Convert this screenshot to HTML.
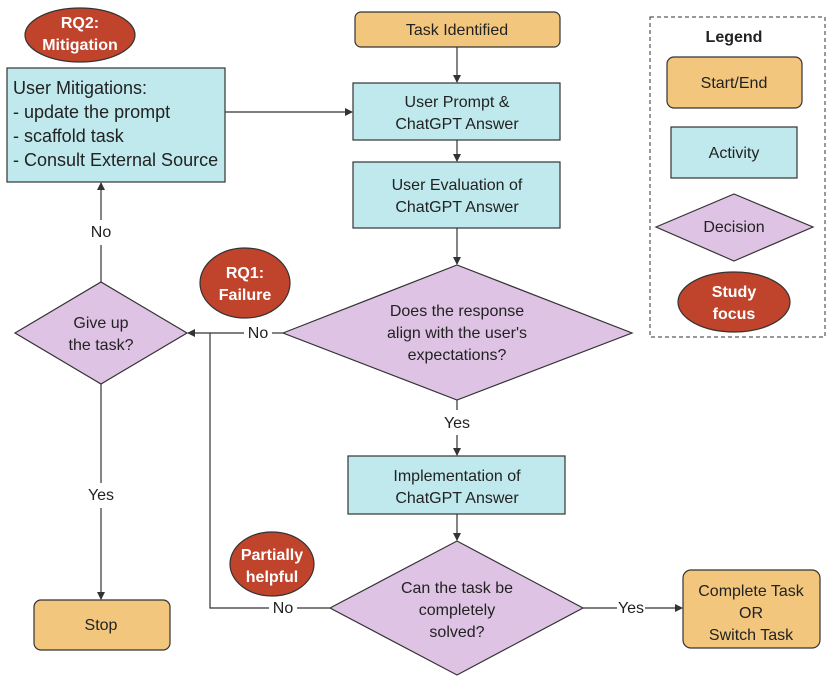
<!DOCTYPE html>
<html><head><meta charset="utf-8"><style>
html,body{margin:0;padding:0;background:#fff;}
text{font-family:"Liberation Sans",sans-serif;font-size:16px;fill:#222;}
.w{fill:#fff;font-weight:bold;}
</style></head><body>
<svg width="831" height="684" viewBox="0 0 831 684" xmlns="http://www.w3.org/2000/svg">
<defs><marker id="a" markerWidth="8" markerHeight="8" refX="7" refY="4" orient="auto" markerUnits="userSpaceOnUse"><path d="M0,0 L8,4 L0,8 z" fill="#333"/></marker></defs>
<g stroke="#333" stroke-width="1.2" fill="none">
<line x1="457" y1="47" x2="457" y2="82" marker-end="url(#a)"/>
<line x1="225" y1="112" x2="352" y2="112" marker-end="url(#a)"/>
<line x1="457" y1="140" x2="457" y2="161" marker-end="url(#a)"/>
<line x1="457" y1="228" x2="457" y2="264" marker-end="url(#a)"/>
<line x1="283" y1="333" x2="272" y2="333"/>
<line x1="244" y1="333" x2="188" y2="333" marker-end="url(#a)"/>
<line x1="101" y1="282" x2="101" y2="245"/>
<line x1="101" y1="220" x2="101" y2="183" marker-end="url(#a)"/>
<line x1="101" y1="384" x2="101" y2="483"/>
<line x1="101" y1="508" x2="101" y2="599" marker-end="url(#a)"/>
<line x1="457" y1="400" x2="457" y2="410"/>
<line x1="457" y1="435" x2="457" y2="455" marker-end="url(#a)"/>
<line x1="457" y1="514" x2="457" y2="540" marker-end="url(#a)"/>
<polyline points="330,608 297,608"/>
<polyline points="269,608 210,608 210,333"/>
<line x1="583" y1="608" x2="617" y2="608"/>
<line x1="645" y1="608" x2="682" y2="608" marker-end="url(#a)"/>
</g>
<g stroke="#333" stroke-width="1.2">
<rect x="355" y="12" width="205" height="35" rx="6" fill="#f2c67c"/>
<rect x="7" y="68" width="218" height="114" fill="#bfe9ec"/>
<rect x="353" y="83" width="207" height="57" fill="#bfe9ec"/>
<rect x="353" y="162" width="207" height="66" fill="#bfe9ec"/>
<polygon points="283,333 457,265 632,333 457,400" fill="#dfc3e4"/>
<rect x="348" y="456" width="217" height="58" fill="#bfe9ec"/>
<polygon points="330,608 457,541 583,608 457,675" fill="#dfc3e4"/>
<rect x="683" y="570" width="137" height="78" rx="8" fill="#f2c67c"/>
<polygon points="15,333 101,282 187,333 101,384" fill="#dfc3e4"/>
<rect x="34" y="600" width="136" height="50" rx="7" fill="#f2c67c"/>
<ellipse cx="80" cy="35" rx="55" ry="27" fill="#c0432c"/>
<ellipse cx="245" cy="283" rx="45" ry="35" fill="#c0432c"/>
<ellipse cx="272" cy="564" rx="42" ry="32" fill="#c0432c"/>
<rect x="667" y="57" width="135" height="51" rx="7" fill="#f2c67c"/>
<rect x="671" y="127" width="126" height="51" fill="#bfe9ec"/>
<polygon points="656,227 734,194 813,227 734,261" fill="#dfc3e4"/>
<ellipse cx="734" cy="302" rx="56" ry="30" fill="#c0432c"/>
</g>
<rect x="650" y="17" width="175" height="320" fill="none" stroke="#333" stroke-dasharray="4,3"/>
<g text-anchor="middle">
<text x="457" y="35">Task Identified</text>
<text x="457" y="107">User Prompt &amp;</text><text x="457" y="129">ChatGPT Answer</text>
<text x="457" y="190">User Evaluation of</text><text x="457" y="212">ChatGPT Answer</text>
<text x="457" y="316">Does the response</text><text x="457" y="338">align with the user's</text><text x="457" y="360">expectations?</text>
<text x="457" y="428">Yes</text>
<text x="457" y="481">Implementation of</text><text x="457" y="503">ChatGPT Answer</text>
<text x="457" y="593">Can the task be</text><text x="457" y="615">completely</text><text x="457" y="637">solved?</text>
<text x="631" y="613">Yes</text>
<text x="283" y="613">No</text>
<text x="258" y="338">No</text>
<text x="751" y="596">Complete Task</text><text x="751" y="618">OR</text><text x="751" y="640">Switch Task</text>
<text x="101" y="328">Give up</text><text x="101" y="350">the task?</text>
<text x="101" y="237">No</text>
<text x="101" y="500">Yes</text>
<text x="101" y="630">Stop</text>
<text class="w" x="80" y="28">RQ2:</text><text class="w" x="80" y="50">Mitigation</text>
<text class="w" x="245" y="278">RQ1:</text><text class="w" x="245" y="300">Failure</text>
<text class="w" x="272" y="560">Partially</text><text class="w" x="272" y="582">helpful</text>
<text x="734" y="42" style="font-weight:bold">Legend</text>
<text x="734" y="88">Start/End</text>
<text x="734" y="158">Activity</text>
<text x="734" y="232">Decision</text>
<text class="w" x="734" y="297">Study</text><text class="w" x="734" y="319">focus</text>
</g>
<g style="font-size:18px">
<text x="13" y="94" style="font-size:18px">User Mitigations:</text>
<text x="13" y="118" style="font-size:18px">- update the prompt</text>
<text x="13" y="142" style="font-size:18px">- scaffold task</text>
<text x="13" y="166" style="font-size:18px">- Consult External Source</text>
</g>
</svg>
</body></html>
